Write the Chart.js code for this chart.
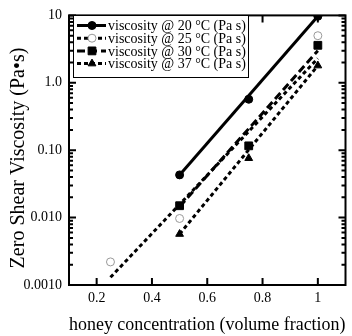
<!DOCTYPE html>
<html>
<head>
<meta charset="utf-8">
<script src="https://cdn.jsdelivr.net/npm/chart.js@4.4.0/dist/chart.umd.min.js"></script>
<style>
body { margin: 0; background: #fff; }
#wrap { width: 352px; height: 336px; }
</style>
</head>
<body>
<div id="wrap"><canvas id="myChart"></canvas></div>
<script>
// measured viscosities at each honey fraction (null = no point)
const fraction = [0.25, 0.5, 0.75, 1];
const visc20 = [null, 0.043, 0.57, 9.7];
const visc25 = [0.0022, 0.0097, null, 5.0];
const visc30 = [null, 0.015, 0.116, 3.6];
const visc37 = [null, 0.0057, 0.076, 1.8];

// exponential fit lines, start and end points
const fitX20 = [0.5, 1];
const fit20 = [0.043, 9.7];
const fitX25 = [0.25, 1];
const fit25 = [0.0013, 2.3];
const fitX30 = [0.5, 1];
const fit30 = [0.0145, 3.0];
const fitX37 = [0.5, 1];
const fit37 = [0.0057, 1.8];

const seriesNames = [
    'viscosity @ 20 °C (Pa s)',
    'viscosity @ 25 °C (Pa s)',
    'viscosity @ 30 °C (Pa s)',
    'viscosity @ 37 °C (Pa s)'
];

const xTicks = [0.2, 0.4, 0.6, 0.8, 1];
const xLabels = ['0.2', '0.4', '0.6', '0.8', '1'];
const yTicks = [0.001, 0.01, 0.1, 1, 10];
const yLabels = ['0.0010', '0.010', '0.10', '1.0', '10'];

const serif = '"Liberation Serif", "DejaVu Serif", serif';

function pts(xs, ys) {
    return xs.map((x, i) => ({ x: x, y: ys[i] })).filter(p => p.y !== null);
}

// line + marker style per series
const styles = [
    { dash: [], width: 3, pointStyle: 'circle', radius: 4, fill: '#000', stroke: '#000', bw: 1 },
    { dash: [4, 3], width: 3, pointStyle: 'circle', radius: 4, fill: '#fff', stroke: '#999', bw: 1 },
    { dash: [8, 4], width: 3, pointStyle: 'rect', radius: 5.5, fill: '#000', stroke: '#000', bw: 1 },
    { dash: [4, 3], width: 3, pointStyle: 'triangle', radius: 4.5, fill: '#000', stroke: '#000', bw: 1 }
];

const fits = [[fitX20, fit20], [fitX25, fit25], [fitX30, fit30], [fitX37, fit37]];
const measured = [visc20, visc25, visc30, visc37];

const datasets = [];
fits.forEach((f, i) => {
    datasets.push({
        label: seriesNames[i] + ' fit',
        data: pts(f[0], f[1]),
        borderColor: '#000',
        borderWidth: styles[i].width,
        borderDash: styles[i].dash,
        borderCapStyle: 'butt',
        pointRadius: 0,
        fill: false
    });
});
measured.forEach((v, i) => {
    datasets.push({
        label: seriesNames[i],
        data: pts(fraction, v),
        showLine: false,
        pointStyle: styles[i].pointStyle,
        pointRadius: styles[i].radius,
        pointBackgroundColor: styles[i].fill,
        pointBorderColor: styles[i].stroke,
        pointBorderWidth: styles[i].bw
    });
});

// frame, inward ticks, in-plot legend, y title
const decorations = {
    id: 'decorations',
    afterDatasetsDraw(chart) {
        const ctx = chart.ctx;
        const a = chart.chartArea;
        const xs = chart.scales.x;
        const ys = chart.scales.y;
        ctx.save();
        ctx.strokeStyle = '#000';
        ctx.lineWidth = 2;
        ctx.setLineDash([]);

        ctx.beginPath();
        xTicks.forEach(v => {
            const px = xs.getPixelForValue(v);
            ctx.moveTo(px, a.bottom); ctx.lineTo(px, a.bottom - 7);
            ctx.moveTo(px, a.top); ctx.lineTo(px, a.top + 7);
        });
        for (let d = 0; d < yTicks.length; d++) {
            const base = yTicks[d];
            const py = ys.getPixelForValue(base);
            ctx.moveTo(a.left, py); ctx.lineTo(a.left + 7, py);
            ctx.moveTo(a.right, py); ctx.lineTo(a.right - 7, py);
            if (d < yTicks.length - 1) {
                for (let m = 2; m <= 9; m++) {
                    const my = ys.getPixelForValue(base * m);
                    ctx.moveTo(a.left, my); ctx.lineTo(a.left + 4, my);
                    ctx.moveTo(a.right, my); ctx.lineTo(a.right - 4, my);
                }
            }
        }
        ctx.stroke();
        ctx.strokeRect(a.left, a.top, a.right - a.left, a.bottom - a.top);

        // legend box
        const lx = 73, ly = 15, lw = 175, lh = 62;
        ctx.fillStyle = '#fff';
        ctx.fillRect(lx, ly, lw, lh);
        ctx.lineWidth = 1;
        ctx.strokeRect(lx + 0.5, ly + 0.5, lw, lh);
        ctx.font = '14px ' + serif;
        ctx.textBaseline = 'middle';
        ctx.textAlign = 'left';
        styles.forEach((s, i) => {
            const ry = ly + 10.5 + i * 12.7;
            ctx.strokeStyle = '#000';
            ctx.lineWidth = s.width;
            ctx.lineCap = 'butt';
            ctx.setLineDash(s.dash);
            ctx.beginPath();
            ctx.moveTo(77, ry); ctx.lineTo(106, ry);
            ctx.stroke();
            ctx.setLineDash([]);
            ctx.fillStyle = s.fill;
            ctx.strokeStyle = s.stroke;
            ctx.lineWidth = s.bw;
            Chart.helpers.drawPoint(ctx, { pointStyle: s.pointStyle, radius: s.radius, rotation: 0, borderWidth: s.bw }, 92, ry);
            ctx.fillStyle = '#000';
            ctx.fillText(seriesNames[i], 108, ry + 1);
        });

        // y axis title
        ctx.translate(19, 158);
        ctx.rotate(-Math.PI / 2);
        ctx.textAlign = 'center';
        ctx.font = '20px ' + serif;
        ctx.fillStyle = '#000';
        ctx.fillText('Zero Shear Viscosity (Pa•s)', 0, 0);
        ctx.restore();
    }
};

const ctx = document.getElementById('myChart').getContext('2d');
const myChart = new Chart(ctx, {
    type: 'line',
    data: { datasets: datasets },
    options: {
        responsive: true,
        maintainAspectRatio: false,
        animation: false,
        layout: { padding: { top: 8, right: 4, left: 0, bottom: 0 } },
        plugins: {
            legend: { display: false },
            tooltip: { enabled: false }
        },
        scales: {
            x: {
                type: 'linear',
                min: 0.1,
                max: 1.1,
                afterBuildTicks: scale => { scale.ticks = xTicks.map(v => ({ value: v })); },
                afterFit: scale => { scale.height = 51; },
                grid: { display: false, drawTicks: false },
                border: { display: false },
                ticks: {
                    padding: 5,
                    color: '#000',
                    font: { family: serif, size: 14 },
                    callback: (v, i) => xLabels[i]
                },
                title: {
                    display: true,
                    text: 'honey concentration (volume fraction)',
                    color: '#000',
                    font: { family: serif, size: 18 },
                    padding: { top: 0, bottom: 0 }
                }
            },
            y: {
                type: 'logarithmic',
                min: 0.001,
                max: 10,
                afterBuildTicks: scale => { scale.ticks = yTicks.map(v => ({ value: v })); },
                afterFit: scale => { scale.width = 69; },
                grid: { display: false, drawTicks: false },
                border: { display: false },
                ticks: {
                    padding: 7,
                    color: '#000',
                    font: { family: serif, size: 14 },
                    callback: (v, i) => yLabels[i]
                }
            }
        }
    },
    plugins: [decorations]
});
</script>
</body>
</html>
